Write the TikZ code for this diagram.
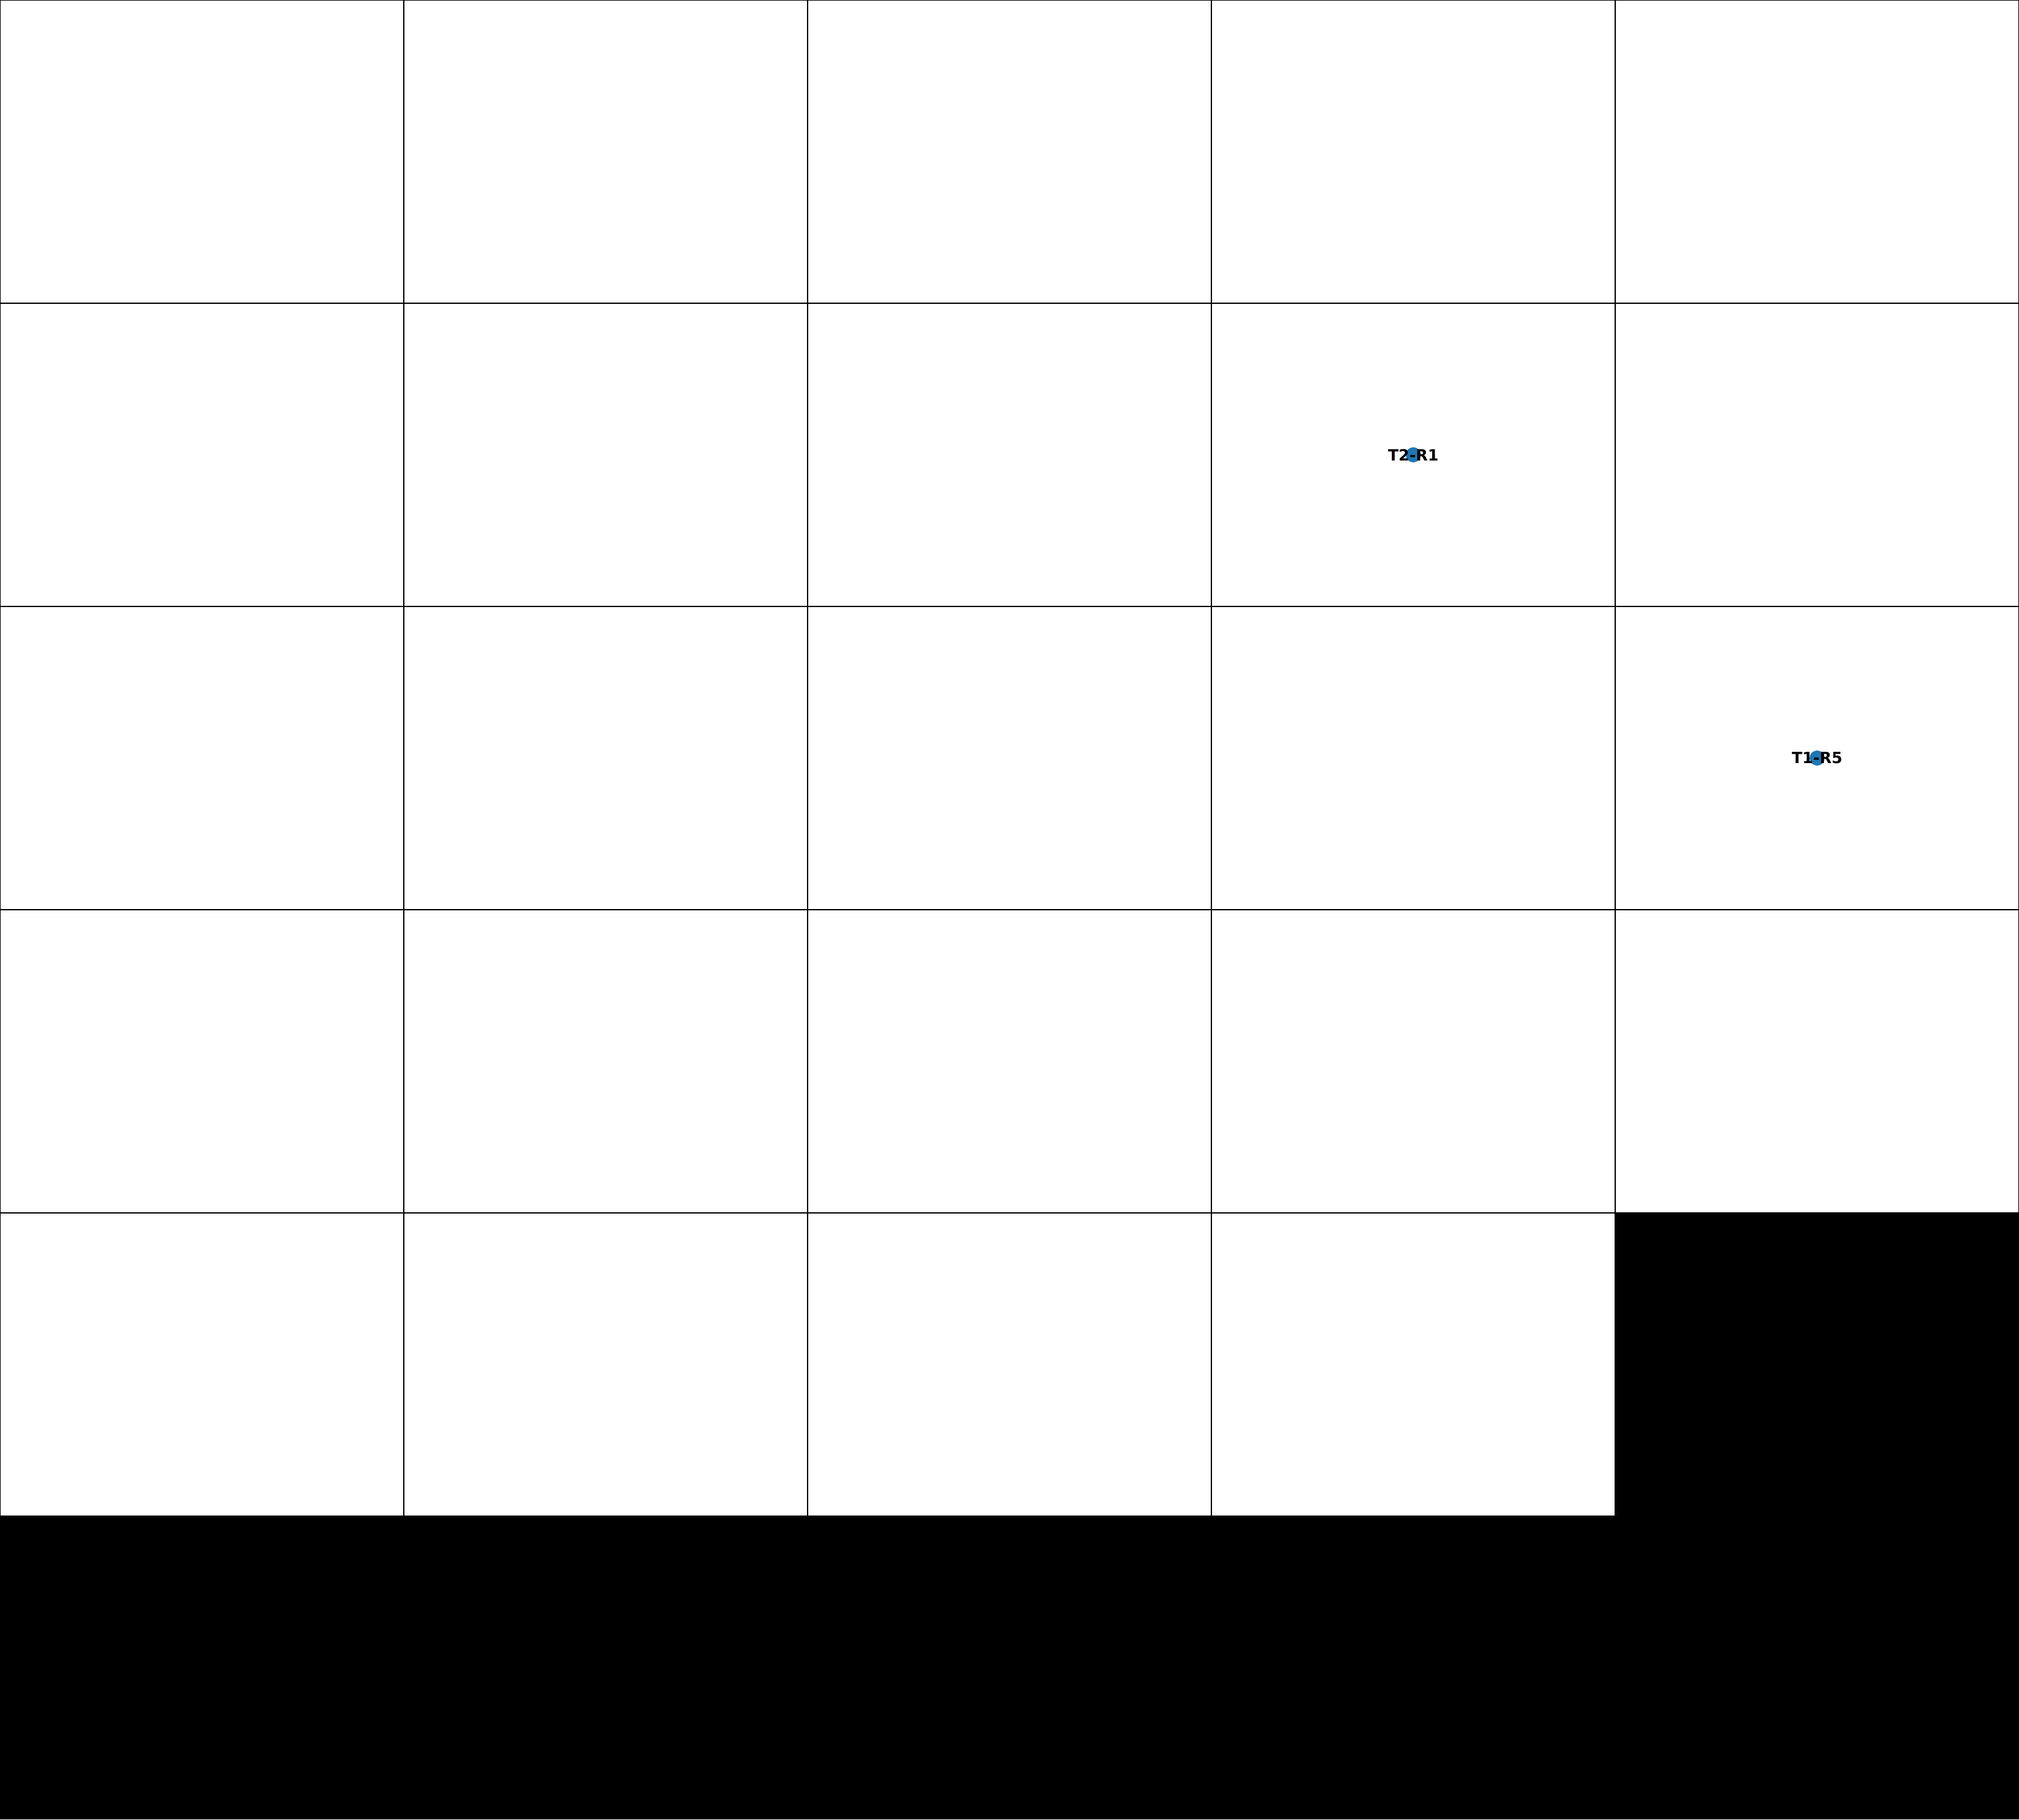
\documentclass[tikz,border=0pt]{standalone}
\usepackage{fontspec}
\setsansfont{DejaVu Sans}
\usepackage{xcolor}
\usepackage{tikz}
\usetikzlibrary{positioning}
\definecolor{Ink}{HTML}{000000}
\definecolor{Dot}{HTML}{1F77B4}

\begin{document}
\begin{tikzpicture}[x=6.42cm,y=4.82cm]
\tikzset{cell/.style={draw=Ink,line width=0.6pt}, blocked/.style={fill=Ink}, spot/.style={circle,fill=Dot,inner sep=0pt,minimum size=2.4mm}, tag/.style={font=\sffamily\bfseries\fontsize{7}{8}\selectfont,text=Ink,inner sep=0pt}}
\useasboundingbox (0,0) rectangle (5,6);
\fill[blocked] (0,0) rectangle (5,1);
\fill[blocked] (4,1) rectangle (5,2);
\foreach \r in {2,...,5} \foreach \c in {0,...,4} \draw[cell] (\c,\r) rectangle ++(1,1);
\foreach \c in {0,...,3} \draw[cell] (\c,1) rectangle ++(1,1);
\node[spot] (t2r1) at (3.5,4.5) {};
\node[tag] (t2r1label) at (t2r1) {T2-R1};
\node[spot] (t1r5) at (4.5,3.5) {};
\node[tag] (t1r5label) at (t1r5) {T1-R5};
\end{tikzpicture}
\end{document}
